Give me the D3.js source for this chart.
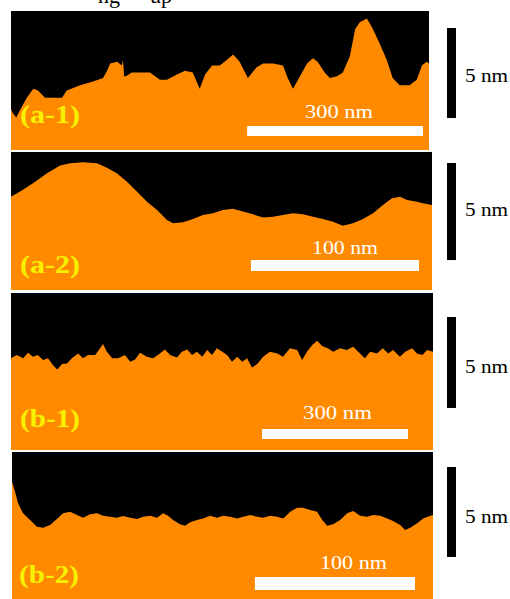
<!DOCTYPE html>
<html>
<head>
<meta charset="utf-8">
<script src="https://cdn.jsdelivr.net/npm/d3@7"></script>
<style>
  body { margin: 0; background: #fff; }
  svg { display: block; }
</style>
</head>
<body>
<script>
// surface profiles: position along the scan (nm) and height above panel floor (nm)
var a1Pos = [0, 2, 9, 15, 27, 38, 46, 58, 72, 87, 95, 118, 140, 157, 164, 169, 181, 189, 191, 193, 196, 206, 220, 237, 254, 266, 283, 297, 310, 322, 331, 343, 356, 368, 379, 390, 404, 419, 430, 447, 464, 472, 481, 493, 505, 515, 523, 535, 544, 556, 566, 578, 587, 595, 607, 616, 629, 641, 651, 663, 680, 692, 701, 709, 713];
var a1Height = [2.3, 2.1, 1.8, 2.2, 2.9, 3.4, 3.3, 2.9, 2.9, 2.9, 3.3, 3.6, 3.8, 4.0, 4.4, 4.8, 4.9, 4.7, 5.0, 4.1, 4.1, 4.3, 4.3, 4.3, 3.9, 3.9, 4.2, 4.4, 4.3, 3.4, 4.2, 4.7, 4.7, 5.0, 5.3, 4.9, 4.0, 4.6, 4.8, 4.8, 4.7, 4.0, 3.4, 4.1, 4.8, 5.1, 4.9, 4.3, 4.0, 4.1, 4.3, 5.2, 6.7, 7.1, 7.3, 6.8, 5.9, 5.0, 4.0, 3.6, 3.6, 3.9, 4.7, 4.9, 4.8];

var a2Pos = [0, 5.4, 13.1, 21.4, 29.2, 35.1, 42.8, 51.2, 57.1, 63.0, 69.0, 74.9, 80.9, 86.9, 92.8, 96.4, 102.3, 108.3, 114.2, 120.2, 126.1, 132.1, 138.0, 144.0, 149.9, 155.9, 161.8, 167.8, 173.7, 179.7, 185.6, 191.6, 197.5, 203.5, 209.4, 215.4, 221.3, 226.7, 231.5, 235.6, 241.6, 245.1, 250.5];
var a2Height = [4.8, 5.07, 5.50, 6.02, 6.41, 6.53, 6.58, 6.53, 6.30, 6.02, 5.58, 5.07, 4.55, 4.12, 3.61, 3.44, 3.49, 3.66, 3.87, 3.95, 4.12, 4.18, 4.04, 3.90, 3.73, 3.78, 3.87, 3.95, 3.90, 3.78, 3.66, 3.52, 3.31, 3.44, 3.66, 3.95, 4.38, 4.73, 4.81, 4.64, 4.55, 4.47, 4.38];

var b1Pos = [0, 12, 25, 35, 45, 55, 66, 76, 86, 95, 105, 115, 125, 138, 148, 158, 173, 183, 189, 197, 208, 220, 234, 245, 255, 265, 279, 292, 306, 316, 327, 341, 351, 362, 372, 382, 393, 403, 413, 423, 434, 444, 454, 465, 475, 485, 495, 506, 518, 532, 547, 559, 573, 588, 598, 608, 619, 629, 639, 651, 662, 676, 690, 703, 717, 727, 738, 752, 764, 775, 785, 799, 810, 824, 834, 845, 855, 867];
var b1Height = [5.04, 5.22, 5.04, 5.35, 5.13, 5.22, 4.95, 5.04, 4.67, 4.43, 4.73, 4.76, 5.04, 5.31, 5.04, 5.22, 5.22, 5.59, 5.82, 5.40, 5.04, 5.04, 5.22, 4.85, 4.98, 5.35, 5.13, 5.04, 5.31, 5.53, 5.22, 5.09, 5.40, 5.53, 5.22, 5.40, 5.13, 5.49, 5.22, 5.59, 5.40, 5.22, 4.85, 5.13, 4.85, 5.04, 4.54, 4.73, 5.13, 5.40, 5.31, 5.13, 5.59, 5.49, 4.95, 5.40, 5.77, 6.01, 5.71, 5.59, 5.40, 5.59, 5.49, 5.68, 5.31, 5.04, 5.40, 5.31, 5.59, 5.31, 5.49, 5.13, 5.40, 5.59, 5.31, 5.22, 5.49, 5.40];

var b2Pos = [0, 1.9, 3.8, 6.9, 11.3, 15.6, 19.4, 23.8, 28.1, 31.9, 36.3, 40.6, 44.4, 48.8, 53.1, 56.9, 61.3, 65.6, 69.4, 73.8, 78.1, 81.9, 86.3, 90.6, 94.4, 97.5, 100.6, 105.0, 108.1, 111.3, 115.6, 119.4, 123.8, 128.1, 131.9, 136.3, 140.6, 144.4, 148.8, 153.1, 156.9, 161.3, 165.6, 169.4, 173.8, 178.1, 181.9, 186.3, 190.6, 193.8, 196.9, 200.6, 205.0, 209.4, 213.1, 217.5, 221.9, 225.6, 230.0, 234.4, 238.1, 242.5, 245.6, 248.8, 253.1, 256.9, 261.3, 263.1];
var b2Height = [6.52, 5.96, 5.32, 4.76, 4.39, 4.02, 3.96, 4.11, 4.44, 4.76, 4.85, 4.67, 4.52, 4.71, 4.76, 4.63, 4.57, 4.52, 4.61, 4.52, 4.44, 4.57, 4.63, 4.52, 4.76, 4.63, 4.39, 4.15, 4.07, 4.26, 4.39, 4.48, 4.63, 4.52, 4.63, 4.57, 4.48, 4.57, 4.67, 4.57, 4.52, 4.63, 4.57, 4.48, 4.85, 5.07, 5.07, 4.94, 4.85, 4.39, 4.07, 4.15, 4.39, 4.76, 4.89, 4.63, 4.57, 4.67, 4.63, 4.48, 4.33, 4.11, 3.83, 3.96, 4.21, 4.48, 4.63, 4.67];

var panelLabels = ["(a-1)", "(a-2)", "(b-1)", "(b-2)"];
var scanLength = [713, 250.5, 867, 263];      // nm across each panel
var panelDepth = [7.72, 7.11, 8.63, 8.17];    // nm from floor to top of each panel
var lateralBar = [300, 100, 300, 100];        // nm
var lateralLabels = ["300 nm", "100 nm", "300 nm", "100 nm"];
var verticalBar = 5;                          // nm
var verticalLabel = "5 nm";

var profiles = [
    { pos: a1Pos, h: a1Height },
    { pos: a2Pos, h: a2Height },
    { pos: b1Pos, h: b1Height },
    { pos: b2Pos, h: b2Height }
];

// layout of each panel in the picture
var layout = [
    { left: 11, right: 429, top: 11,  bottom: 150, barRight: 423, barTop: 126, barH: 10, barText: [305, 118, 68], label: [20, 123], vTop: 28,  vText: 82 },
    { left: 11, right: 432, top: 152, bottom: 290, barRight: 419, barTop: 260, barH: 11, barText: [312, 254, 66], label: [20, 273], vTop: 163, vText: 216 },
    { left: 11, right: 433, top: 293, bottom: 450, barRight: 408, barTop: 429, barH: 10, barText: [303, 419, 69], label: [20, 427], vTop: 317, vText: 373 },
    { left: 12, right: 433, top: 452, bottom: 599, barRight: 415, barTop: 577, barH: 13, barText: [320, 569, 67], label: [19, 583], vTop: 467, vText: 523 }
];

var width = 510,
    height = 599;
var orange = "#ff8a00";
var serif = "'Times New Roman', 'Liberation Serif', Times, serif";

var svg = d3.select("body")
    .append("svg")
    .attr("width", width)
    .attr("height", height);

// bits of the caption line that got cropped off at the top
svg.append("text")
    .attr("x", 98).attr("y", 3)
    .style("font-family", serif).style("font-size", "22px")
    .text("ng");
svg.append("text")
    .attr("x", 150).attr("y", 3)
    .style("font-family", serif).style("font-size", "22px")
    .text("up");

layout.forEach(function (L, i) {
    var x = d3.scaleLinear().domain([0, scanLength[i]]).range([L.left, L.right]);
    var y = d3.scaleLinear().domain([0, panelDepth[i]]).range([L.bottom, L.top]);
    var pts = profiles[i].pos.map(function (p, j) { return [p, profiles[i].h[j]]; });

    var g = svg.append("g");

    g.append("clipPath")
        .attr("id", "clip" + i)
        .append("rect")
        .attr("x", L.left).attr("y", L.top)
        .attr("width", L.right - L.left).attr("height", L.bottom - L.top);

    // black background, orange surface below the profile
    g.append("rect")
        .attr("x", L.left).attr("y", L.top)
        .attr("width", L.right - L.left).attr("height", L.bottom - L.top)
        .style("fill", "black");

    var area = d3.area()
        .x(function (d) { return x(d[0]); })
        .y0(y(0))
        .y1(function (d) { return y(d[1]); })
        .curve(d3.curveLinear);

    g.append("path")
        .datum(pts)
        .attr("clip-path", "url(#clip" + i + ")")
        .attr("d", area)
        .style("fill", orange);

    // lateral scale bar
    var barW = x(lateralBar[i]) - x(0);
    g.append("rect")
        .attr("x", L.barRight - barW).attr("y", L.barTop)
        .attr("width", barW).attr("height", L.barH)
        .style("fill", "white");
    g.append("text")
        .attr("x", L.barText[0]).attr("y", L.barText[1])
        .attr("textLength", L.barText[2])
        .attr("lengthAdjust", "spacingAndGlyphs")
        .style("font-family", serif).style("font-size", "18px")
        .style("fill", "white")
        .text(lateralLabels[i]);

    // panel label
    g.append("text")
        .attr("x", L.label[0]).attr("y", L.label[1])
        .attr("textLength", 60)
        .attr("lengthAdjust", "spacingAndGlyphs")
        .style("font-family", serif).style("font-size", "25px")
        .style("font-weight", "700")
        .style("fill", "#f7f000")
        .text(panelLabels[i]);

    // vertical 5 nm bar outside the panel
    var barLen = y(0) - y(verticalBar);
    svg.append("rect")
        .attr("x", 447).attr("y", L.vTop)
        .attr("width", 9).attr("height", barLen)
        .style("fill", "black");
    svg.append("text")
        .attr("x", 465).attr("y", L.vText)
        .attr("textLength", 43)
        .attr("lengthAdjust", "spacingAndGlyphs")
        .style("font-family", serif).style("font-size", "19px")
        .text(verticalLabel);
});
</script>
</body>
</html>
